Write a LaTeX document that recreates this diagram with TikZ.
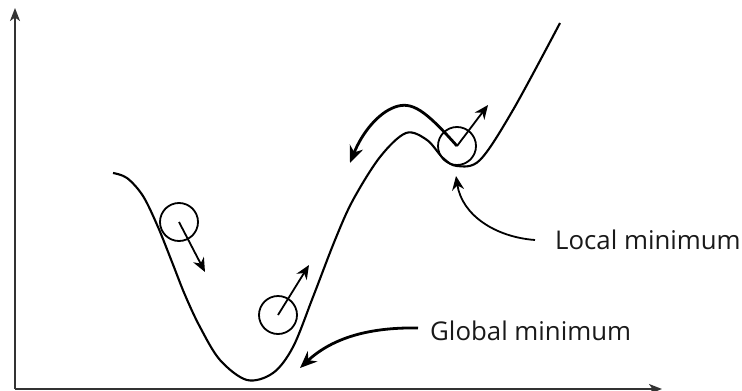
\documentclass[tikz,border=0pt]{standalone}
\usepackage{fontspec}
\setmainfont{Open Sans}
\usetikzlibrary{arrows.meta}
\tikzset{
  curve/.style={line width=2.1pt, black},
  ball/.style={circle, draw, line width=1.8pt, minimum size=38pt, inner sep=0pt},
  thinarrow/.style={line width=1.8pt, -{Stealth[length=14pt,width=12pt,inset=4.5pt]}},
  thickarrow/.style={line width=2.8pt, -{Stealth[length=17pt,width=14pt,inset=5.5pt]}},
  axis/.style={line width=1.8pt, color=black!80, -{Stealth[length=13pt,width=10pt,inset=3.5pt]}},
  lbl/.style={anchor=base west, inner sep=0pt, font=\fontsize{25.8}{30}\selectfont, text=black!90}
}
\begin{document}
\begin{tikzpicture}[x=1pt,y=-1pt]
\useasboundingbox (0,0) rectangle (742,391);
% axes
\coordinate (origin) at (15,389);
\coordinate (ytip) at (15,8);
\coordinate (xtip) at (662,389);
\draw[axis] (origin) -- (ytip);
\draw[axis] (origin) -- (xtip);
% landscape curve
\draw[curve] plot[smooth, tension=0.55] coordinates {
  (113,173) (127,178) (143,196) (158,227) (172,262) (185,295) (200,327) (220,360)
  (247,380) (273,373) (293,347) (313,297) (335,240) (353,200) (380,157)
  (406,133) (427,140) (443,158) (457,166) (480,160) (513,110) (560,23)};
% balls
\node[ball] (b1) at (179,222) {};
\node[ball] (b2) at (278,315) {};
\node[ball] (b3) at (457,146) {};
\coordinate (a1) at (205,272);
\coordinate (a2) at (309,265);
\coordinate (a3) at (488,105);
\draw[thinarrow] (b1.center) -- (a1);
\draw[thinarrow] (b2.center) -- (a2);
\draw[thinarrow] (b3.center) -- (a3);
% escape arrow
\coordinate (esc) at (350,163);
\draw[thickarrow] (b3.center) .. controls (425,110) and (412,101) .. (395,107)
   .. controls (378,113) and (362,133) .. (esc);
% labels
\node[lbl] (lmin) at (555,249) {Local minimum};
\node[lbl] (gmin) at (430,340) {Global minimum};
\coordinate (lmintip) at (456,176);
\coordinate (gmintip) at (300,368);
\draw[thinarrow] (lmin.west |- 0,240) ++(-20,0) coordinate (ls)
   .. controls (495,237) and (462,215) .. (lmintip);
\draw[thickarrow] (gmin.west |- 0,328) ++(-12,0) coordinate (gs)
   .. controls (365,327) and (330,340) .. (gmintip);
\end{tikzpicture}
\end{document}
